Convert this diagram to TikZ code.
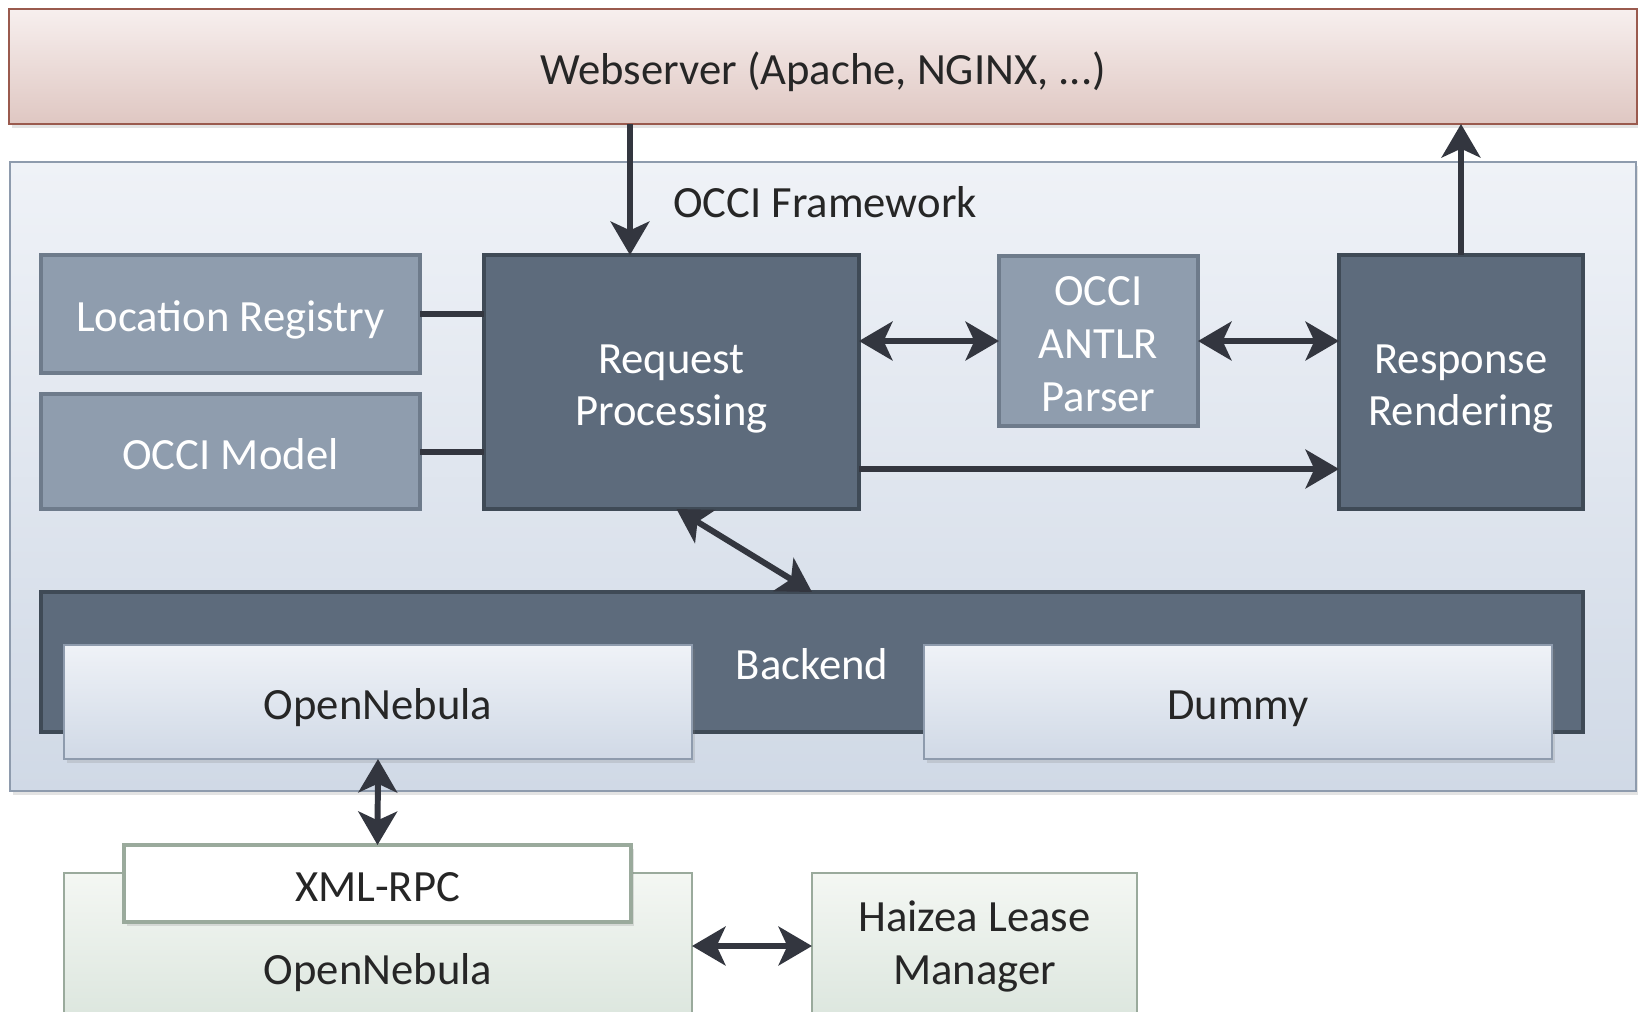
\documentclass[tikz,border=0pt]{standalone}
\usepackage{fontspec}
\setmainfont{Carlito}
\usetikzlibrary{arrows.meta,shadows}
\begin{document}
\begin{tikzpicture}[x=0.01cm,y=-0.01cm,
  box/.style 2 args={draw,inner sep=0pt,outer sep=0pt,align=center,
    minimum width=#1*0.01cm,minimum height=#2*0.01cm,
    text height=10pt,text depth=0pt,
    font=\fontsize{12.7}{15}\selectfont},
  two/.style={text height=25pt},
  three/.style={text height=40pt},
  shade/.style={drop shadow={opacity=0.22,shadow xshift=0.8pt,shadow yshift=-1.2pt}},
  darkbox/.style={fill=darkfill,draw=darkline,line width=1.1pt,text=white},
  greybox/.style={fill=greyfill,draw=greyline,line width=0.9pt,text=white},
  bluebox/.style={top color=bluetop,bottom color=bluebot,draw=blueline,line width=0.6pt,text=textc},
  greenbox/.style={top color=greentop,bottom color=greenbot,draw=greenline,line width=0.7pt,text=textc},
  link/.style={line width=1.7pt,draw=arrowc},
  arr/.style={link,-{Stealth[length=9.5pt,width=11pt,inset=2.5pt]}},
  dbl/.style={link,{Stealth[length=9.5pt,width=11pt,inset=2.5pt]}-{Stealth[length=9.5pt,width=11pt,inset=2.5pt]}}]
\definecolor{darkfill}{HTML}{5D6B7C}
\definecolor{darkline}{HTML}{3F4A56}
\definecolor{greyfill}{HTML}{8F9DAE}
\definecolor{greyline}{HTML}{6E7B8B}
\definecolor{bluetop}{HTML}{EFF2F7}
\definecolor{bluebot}{HTML}{D0D9E6}
\definecolor{blueline}{HTML}{8E9BAD}
\definecolor{greentop}{HTML}{F4F7F3}
\definecolor{greenbot}{HTML}{DCE6DE}
\definecolor{greenline}{HTML}{9AAA9C}
\definecolor{webtop}{HTML}{F7EFEE}
\definecolor{webbot}{HTML}{DFC7C2}
\definecolor{webline}{HTML}{9A5A4E}
\definecolor{arrowc}{HTML}{33363F}
\definecolor{textc}{HTML}{262626}
\useasboundingbox (0,0) rectangle (1638,1011);

% webserver and framework
\node[box={1628}{115},shade,top color=webtop,bottom color=webbot,draw=webline,line width=0.6pt,text=textc]
  (web) at (823,66.5) {Webserver (Apache, NGINX, ...)};
\node[box={1626}{629},shade,bluebox] (frame) at (823,476.5) {};
\node[font=\fontsize{12.7}{15}\selectfont,text=textc] (framelabel) at (825,202) {OCCI Framework};

% framework parts
\node[box={379}{118},greybox] (locreg) at (230.5,314) {Location Registry};
\node[box={379}{115},greybox] (model) at (230.5,451.5) {OCCI Model};
\node[box={375}{254},darkbox,two] (req) at (671.5,382) {Request\\Processing};
\node[box={199}{170},greybox,three] (parser) at (1098.5,341) {OCCI\\ANTLR\\Parser};
\node[box={244}{254},darkbox,two] (resp) at (1461,382) {Response\\Rendering};

% backend
\node[box={1542}{140},darkbox] (backend) at (812,662) {Backend};
\node[box={628}{114},shade,bluebox] (onevm) at (378,702) {OpenNebula};
\node[box={628}{114},shade,bluebox] (dummy) at (1238,702) {Dummy};

% outside
\node[box={628}{146},greenbox] (one) at (378,946) {};
\node[font=\fontsize{12.7}{15}\selectfont,text=textc] (onelabel) at (378,973) {OpenNebula};
\node[box={507}{77},shade,fill=white,draw=greenline,line width=1.1pt,text=textc] (xmlrpc) at (377.5,883.5) {XML-RPC};
\node[box={325}{146},greenbox,text height=22pt] (haizea) at (974.5,946) {Haizea Lease\\Manager};

% connectors
\draw[link] (locreg.east) -- (locreg.east -| req.west);
\draw[link] (model.east) -- (model.east -| req.west);
\draw[arr] (web.south -| 630,0) -- (req.north -| 630,0);
\draw[arr] (resp.north) -- (resp.north |- web.south);
\draw[dbl] (req.east |- parser.west) -- (parser.west);
\draw[dbl] (parser.east) -- (parser.east -| resp.west);
\draw[arr] (req.east |- 0,469) -- (resp.west |- 0,469);
\draw[dbl] ([xshift=0.05cm]req.south) -- (backend.north);
\draw[dbl] (onevm.south) -- (xmlrpc.north);
\draw[dbl] (haizea.west -| one.east) -- (haizea.west);
\end{tikzpicture}
\end{document}
